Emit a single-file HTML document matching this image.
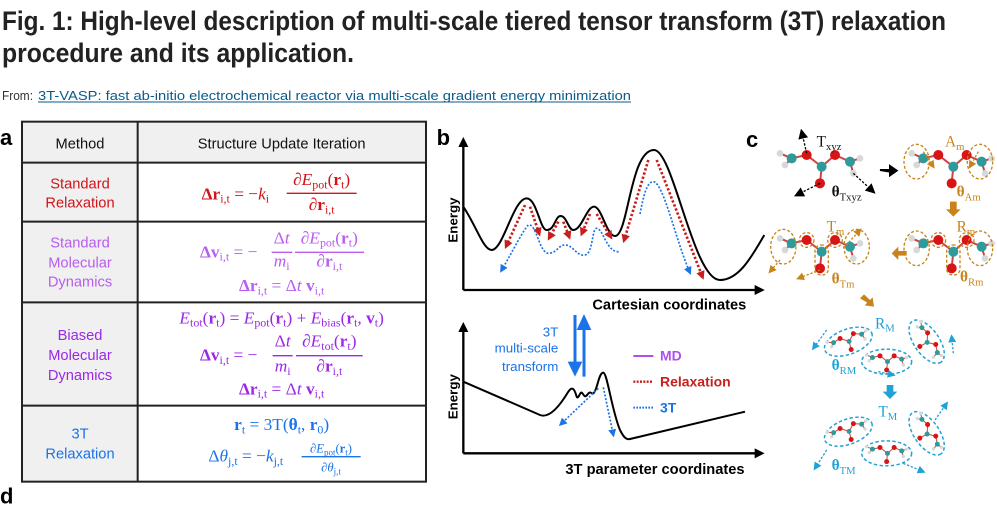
<!DOCTYPE html>
<html><head><meta charset="utf-8">
<style>
html,body{margin:0;padding:0;background:#fff;}
svg{display:block;}
.ser{font-family:"Liberation Serif","DejaVu Serif",serif;}
.san{font-family:"Liberation Sans","DejaVu Sans",sans-serif;}
</style></head>
<body>
<svg width="997" height="506" viewBox="0 0 997 506" xmlns="http://www.w3.org/2000/svg" xmlns:xlink="http://www.w3.org/1999/xlink">
<defs>
 <marker id="ap" viewBox="0 0 10 10" refX="7" refY="5" markerWidth="26" markerHeight="26" markerUnits="userSpaceOnUse" orient="auto"><path d="M0,0 L10,5 L0,10 z" fill="#b04ff0"/></marker>
 <marker id="ar" viewBox="0 0 10 10" refX="7" refY="5" markerWidth="26" markerHeight="26" markerUnits="userSpaceOnUse" orient="auto"><path d="M0,0 L10,5 L0,10 z" fill="#c81e1e"/></marker>
 <marker id="ab" viewBox="0 0 10 10" refX="7" refY="5" markerWidth="24" markerHeight="24" markerUnits="userSpaceOnUse" orient="auto"><path d="M0,0 L10,5 L0,10 z" fill="#1a73e8"/></marker>
 <marker id="ak" viewBox="0 0 10 10" refX="7" refY="5" markerWidth="30" markerHeight="30" markerUnits="userSpaceOnUse" orient="auto"><path d="M0,0 L10,5 L0,10 z" fill="#000"/></marker>
 <marker id="ao" viewBox="0 0 10 10" refX="7" refY="5" markerWidth="24" markerHeight="24" markerUnits="userSpaceOnUse" orient="auto"><path d="M0,0 L10,5 L0,10 z" fill="#c8831a"/></marker>
 <marker id="ac" viewBox="0 0 10 10" refX="7" refY="5" markerWidth="24" markerHeight="24" markerUnits="userSpaceOnUse" orient="auto"><path d="M0,0 L10,5 L0,10 z" fill="#1fa3d6"/></marker>
 <g id="mol">
  <g stroke="#c44" stroke-width="6">
   <line x1="95" y1="115" x2="140" y2="105"/><line x1="140" y1="105" x2="185" y2="140"/><line x1="185" y1="140" x2="180" y2="190"/>
   <line x1="185" y1="140" x2="225" y2="105"/><line x1="225" y1="105" x2="270" y2="125"/><line x1="60" y1="100" x2="95" y2="115"/>
   <line x1="75" y1="135" x2="95" y2="115"/><line x1="270" y1="125" x2="300" y2="115"/><line x1="270" y1="125" x2="280" y2="160"/>
  </g>
  <circle cx="60" cy="100" r="10" fill="#d8d8d8"/><circle cx="75" cy="135" r="10" fill="#d8d8d8"/>
  <circle cx="300" cy="115" r="10" fill="#d8d8d8"/><circle cx="280" cy="160" r="10" fill="#d8d8d8"/>
  <circle cx="95" cy="115" r="15" fill="#2e9a9a"/><circle cx="185" cy="140" r="15" fill="#2e9a9a"/><circle cx="270" cy="125" r="15" fill="#2e9a9a"/>
  <circle cx="140" cy="105" r="15" fill="#d81414"/><circle cx="180" cy="190" r="15" fill="#d81414"/><circle cx="225" cy="105" r="15" fill="#d81414"/>
 </g>
 <g id="molh">
  <ellipse cx="180" cy="140" rx="150" ry="75" fill="none" stroke="#1fa3d6" stroke-width="9" stroke-dasharray="20,14"/>
  <use xlink:href="#mol" href="#mol"/>
 </g>
</defs>

<!-- Header -->
<text x="2" y="30" font-family="'Liberation Sans Narrow','Liberation Sans',sans-serif" font-weight="bold" font-size="27" fill="#222" textLength="944" lengthAdjust="spacingAndGlyphs">Fig. 1: High-level description of multi-scale tiered tensor transform (3T) relaxation</text>
<text x="2" y="62" font-family="'Liberation Sans Narrow','Liberation Sans',sans-serif" font-weight="bold" font-size="27" fill="#222" textLength="352" lengthAdjust="spacingAndGlyphs">procedure and its application.</text>
<text x="2" y="100" font-family="'Liberation Sans Narrow','Liberation Sans',sans-serif" font-size="13" fill="#333" textLength="31" lengthAdjust="spacingAndGlyphs">From:</text>
<a><text x="38" y="100" font-family="'Liberation Sans Narrow','Liberation Sans',sans-serif" font-size="13" fill="#0a5a8a" textLength="593" lengthAdjust="spacingAndGlyphs">3T-VASP: fast ab-initio electrochemical reactor via multi-scale gradient energy minimization</text></a>
<line x1="38" y1="102" x2="631" y2="102" stroke="#0a5a8a" stroke-width="1"/>

<!-- Panel a -->
<g transform="translate(0,110) scale(0.33333)">
 <text x="0" y="105" class="san" font-weight="bold" font-size="66" fill="#000">a</text>
 <rect x="66" y="35" width="1212" height="1080" fill="#fff"/>
 <rect x="66" y="35" width="1212" height="123" fill="#f0f0f0"/>
 <rect x="66" y="35" width="347" height="1080" fill="#f0f0f0"/>
 <rect x="66" y="35" width="1212" height="1080" fill="none" stroke="#222" stroke-width="6"/>
 <line x1="413" y1="35" x2="413" y2="1115" stroke="#222" stroke-width="6"/>
 <line x1="66" y1="158" x2="1278" y2="158" stroke="#222" stroke-width="6"/>
 <line x1="66" y1="335" x2="1278" y2="335" stroke="#222" stroke-width="6"/>
 <line x1="66" y1="577" x2="1278" y2="577" stroke="#222" stroke-width="6"/>
 <line x1="66" y1="887" x2="1278" y2="887" stroke="#222" stroke-width="6"/>
 <g class="san" font-size="44" text-anchor="middle">
  <text x="240" y="115" fill="#111">Method</text>
  <text x="845" y="115" fill="#111">Structure Update Iteration</text>
  <g fill="#d0141a"><text x="240" y="235">Standard</text><text x="240" y="293">Relaxation</text></g>
  <g fill="#b95cf0"><text x="240" y="412">Standard</text><text x="240" y="472">Molecular</text><text x="240" y="530">Dynamics</text></g>
  <g fill="#9a28e6"><text x="240" y="690">Biased</text><text x="240" y="750">Molecular</text><text x="240" y="810">Dynamics</text></g>
  <g fill="#1a73e8"><text x="240" y="985">3T</text><text x="240" y="1045">Relaxation</text></g>
 </g>
 <g class="ser" font-size="52">
  <g fill="#d0141a">
   <text x="605" y="268"><tspan font-weight="bold">Δr</tspan><tspan font-size="36" dy="10">i,t</tspan><tspan dy="-10"> = −</tspan><tspan font-style="italic">k</tspan><tspan font-size="36" dy="10">i</tspan></text>
   <text x="965" y="225" text-anchor="middle"><tspan font-style="italic">∂E</tspan><tspan font-size="36" dy="10">pot</tspan><tspan dy="-10">(</tspan><tspan font-weight="bold">r</tspan><tspan font-size="36" dy="10">t</tspan><tspan dy="-10">)</tspan></text>
   <line x1="860" y1="250" x2="1070" y2="250" stroke="#d0141a" stroke-width="4"/>
   <text x="965" y="300" text-anchor="middle"><tspan font-style="italic">∂</tspan><tspan font-weight="bold">r</tspan><tspan font-size="36" dy="10">i,t</tspan></text>
  </g>
  <g fill="#b95cf0">
   <text x="600" y="442"><tspan font-weight="bold">Δv</tspan><tspan font-size="36" dy="10">i,t</tspan><tspan dy="-10"> = −</tspan></text>
   <text x="845" y="400" text-anchor="middle">Δ<tspan font-style="italic">t</tspan></text>
   <line x1="815" y1="427" x2="877" y2="427" stroke="#b95cf0" stroke-width="4"/>
   <text x="845" y="470" text-anchor="middle"><tspan font-style="italic">m</tspan><tspan font-size="36" dy="10">i</tspan></text>
   <text x="988" y="400" text-anchor="middle"><tspan font-style="italic">∂E</tspan><tspan font-size="36" dy="10">pot</tspan><tspan dy="-10">(</tspan><tspan font-weight="bold">r</tspan><tspan font-size="36" dy="10">t</tspan><tspan dy="-10">)</tspan></text>
   <line x1="885" y1="427" x2="1092" y2="427" stroke="#b95cf0" stroke-width="4"/>
   <text x="988" y="470" text-anchor="middle"><tspan font-style="italic">∂</tspan><tspan font-weight="bold">r</tspan><tspan font-size="36" dy="10">i,t</tspan></text>
   <text x="845" y="543" text-anchor="middle"><tspan font-weight="bold">Δr</tspan><tspan font-size="36" dy="10">i,t</tspan><tspan dy="-10"> = Δ</tspan><tspan font-style="italic">t </tspan><tspan font-weight="bold">v</tspan><tspan font-size="36" dy="10">i,t</tspan></text>
  </g>
  <g fill="#9a28e6">
   <text x="845" y="640" text-anchor="middle"><tspan font-style="italic">E</tspan><tspan font-size="36" dy="10">tot</tspan><tspan dy="-10">(</tspan><tspan font-weight="bold">r</tspan><tspan font-size="36" dy="10">t</tspan><tspan dy="-10">) = </tspan><tspan font-style="italic">E</tspan><tspan font-size="36" dy="10">pot</tspan><tspan dy="-10">(</tspan><tspan font-weight="bold">r</tspan><tspan font-size="36" dy="10">t</tspan><tspan dy="-10">) + </tspan><tspan font-style="italic">E</tspan><tspan font-size="36" dy="10">bias</tspan><tspan dy="-10">(</tspan><tspan font-weight="bold">r</tspan><tspan font-size="36" dy="10">t</tspan><tspan dy="-10">, </tspan><tspan font-weight="bold">v</tspan><tspan font-size="36" dy="10">t</tspan><tspan dy="-10">)</tspan></text>
   <text x="600" y="752"><tspan font-weight="bold">Δv</tspan><tspan font-size="36" dy="10">i,t</tspan><tspan dy="-10"> = −</tspan></text>
   <text x="848" y="710" text-anchor="middle">Δ<tspan font-style="italic">t</tspan></text>
   <line x1="818" y1="737" x2="878" y2="737" stroke="#9a28e6" stroke-width="4"/>
   <text x="848" y="785" text-anchor="middle"><tspan font-style="italic">m</tspan><tspan font-size="36" dy="10">i</tspan></text>
   <text x="988" y="710" text-anchor="middle"><tspan font-style="italic">∂E</tspan><tspan font-size="36" dy="10">tot</tspan><tspan dy="-10">(</tspan><tspan font-weight="bold">r</tspan><tspan font-size="36" dy="10">t</tspan><tspan dy="-10">)</tspan></text>
   <line x1="888" y1="737" x2="1088" y2="737" stroke="#9a28e6" stroke-width="4"/>
   <text x="988" y="785" text-anchor="middle"><tspan font-style="italic">∂</tspan><tspan font-weight="bold">r</tspan><tspan font-size="36" dy="10">i,t</tspan></text>
   <text x="845" y="853" text-anchor="middle"><tspan font-weight="bold">Δr</tspan><tspan font-size="36" dy="10">i,t</tspan><tspan dy="-10"> = Δ</tspan><tspan font-style="italic">t </tspan><tspan font-weight="bold">v</tspan><tspan font-size="36" dy="10">i,t</tspan></text>
  </g>
  <g fill="#1a73e8">
   <text x="845" y="960" text-anchor="middle"><tspan font-weight="bold">r</tspan><tspan font-size="36" dy="10">t</tspan><tspan dy="-10"> = 3T(</tspan><tspan font-weight="bold">θ</tspan><tspan font-size="36" dy="10">t</tspan><tspan dy="-10">, </tspan><tspan font-weight="bold">r</tspan><tspan font-size="36" dy="10">0</tspan><tspan dy="-10">)</tspan></text>
   <text x="625" y="1055">Δ<tspan font-style="italic">θ</tspan><tspan font-size="36" dy="10">j,t</tspan><tspan dy="-10"> = −</tspan><tspan font-style="italic">k</tspan><tspan font-size="36" dy="10">j,t</tspan></text>
   <text x="993" y="1028" text-anchor="middle" font-size="38"><tspan font-style="italic">∂E</tspan><tspan font-size="27" dy="8">pot</tspan><tspan dy="-8">(</tspan><tspan font-weight="bold">r</tspan><tspan font-size="27" dy="8">t</tspan><tspan dy="-8">)</tspan></text>
   <line x1="905" y1="1040" x2="1082" y2="1040" stroke="#1a73e8" stroke-width="4"/>
   <text x="993" y="1085" text-anchor="middle" font-size="38"><tspan font-style="italic">∂θ</tspan><tspan font-size="27" dy="8">j,t</tspan></text>
  </g>
 </g>
 <text x="0" y="1180" class="san" font-weight="bold" font-size="66" fill="#000">d</text>
</g>

<!-- Panel b -->
<g transform="translate(430,110) scale(0.33333)">
 <text x="20" y="105" class="san" font-weight="bold" font-size="66">b</text>
 <path d="M100,540 L100,90" stroke="#000" stroke-width="7" fill="none" marker-end="url(#ak)"/>
 <path d="M100,540 L995,540" stroke="#000" stroke-width="7" fill="none" marker-end="url(#ak)"/>
 <text transform="translate(82,330) rotate(-90)" text-anchor="middle" class="san" font-weight="bold" font-size="40">Energy</text>
 <text x="718" y="598" text-anchor="middle" class="san" font-weight="bold" font-size="44">Cartesian coordinates</text>
 <path d="M100,290 C140,350 160,420 185,420 C220,420 250,265 290,265 C320,265 330,360 350,360 C375,360 375,318 392,318 C410,318 415,360 430,360 C455,360 470,290 492,290 C515,290 530,378 555,378 C595,378 600,120 672,120 C730,120 790,510 870,510 C930,510 970,430 1003,375" stroke="#000" stroke-width="6" fill="none"/>
 <g id="waves"></g>
 <g stroke="#c81e1e" stroke-width="8" stroke-dasharray="7,6" fill="none">
  <path d="M285,285 L228,410" marker-end="url(#ar)"/>
  <path d="M300,290 L328,372" marker-end="url(#ar)"/>
  <path d="M385,335 L357,385" marker-end="url(#ar)"/>
  <path d="M400,335 L418,382" marker-end="url(#ar)"/>
  <path d="M480,312 L455,372" marker-end="url(#ar)"/>
  <path d="M500,312 L543,382" marker-end="url(#ar)"/>
  <path d="M655,150 L582,392" marker-end="url(#ar)"/>
  <path d="M680,150 L818,502" marker-end="url(#ar)"/>
 </g>
 <g stroke="#1a73e8" stroke-width="5" stroke-dasharray="6,5" fill="none">
  <path d="M300,345 C320,350 330,430 355,430 C380,430 385,405 405,405 C430,405 440,440 465,435 C490,430 485,355 500,355 C520,355 530,430 568,425"/>
  <path d="M295,345 C280,360 250,420 214,482" marker-end="url(#ab)"/>
  <path d="M630,312 C640,260 650,215 670,215 C700,215 740,400 780,488" marker-end="url(#ab)"/>
 </g>
 <path d="M100,1030 L100,645" stroke="#000" stroke-width="7" fill="none" marker-end="url(#ak)"/>
 <path d="M100,1030 L995,1030" stroke="#000" stroke-width="7" fill="none" marker-end="url(#ak)"/>
 <text transform="translate(82,860) rotate(-90)" text-anchor="middle" class="san" font-weight="bold" font-size="40">Energy</text>
 <text x="675" y="1092" text-anchor="middle" class="san" font-weight="bold" font-size="44">3T parameter coordinates</text>
 <path d="M100,815 L330,915 C355,925 385,895 415,845 C425,830 432,832 440,860 C445,870 450,845 455,848 C460,850 462,862 468,858 C474,854 476,845 482,848 C488,852 492,855 500,830 C505,815 510,788 520,788 C532,790 545,900 570,960 C580,980 588,990 600,987 L945,905" stroke="#000" stroke-width="6" fill="none"/>
 <g stroke="#1a73e8" stroke-width="5" stroke-dasharray="6,5" fill="none">
  <path d="M505,835 L392,943" marker-end="url(#ab)"/>
  <path d="M520,832 L550,975" marker-end="url(#ab)"/>
 </g>
 <g>
  <line x1="435" y1="615" x2="435" y2="760" stroke="#1a73e8" stroke-width="9"/>
  <path d="M413,755 L457,755 L435,800 z" fill="#1a73e8"/>
  <line x1="462" y1="800" x2="462" y2="655" stroke="#1a73e8" stroke-width="9"/>
  <path d="M440,660 L484,660 L462,612 z" fill="#1a73e8"/>
 </g>
 <g class="san" font-size="40" fill="#1a73e8" text-anchor="end">
  <text x="385" y="680">3T</text><text x="385" y="727">multi-scale</text><text x="385" y="783">transform</text>
 </g>
 <g>
  <line x1="610" y1="738" x2="670" y2="738" stroke="#b04ff0" stroke-width="6"/>
  <text x="690" y="752" class="san" font-weight="bold" font-size="42" fill="#b04ff0">MD</text>
  <line x1="610" y1="815" x2="670" y2="815" stroke="#c81e1e" stroke-width="7" stroke-dasharray="6,4"/>
  <text x="690" y="830" class="san" font-weight="bold" font-size="42" fill="#c81e1e">Relaxation</text>
  <line x1="610" y1="893" x2="670" y2="893" stroke="#1a73e8" stroke-width="6" stroke-dasharray="5,4"/>
  <text x="690" y="908" class="san" font-weight="bold" font-size="42" fill="#1a73e8">3T</text>
 </g>
</g>

<!-- Panel c -->
<text x="746" y="147" class="san" font-weight="bold" font-size="22">c</text>
<g transform="translate(760,120) scale(0.33333)">
 <g>
  <use xlink:href="#mol" href="#mol"/>
  <use xlink:href="#mol" href="#mol" transform="translate(395,0)"/>
  <use xlink:href="#mol" href="#mol" transform="translate(395,255)"/>
  <use xlink:href="#mol" href="#mol" transform="translate(0,255)"/>
  <use xlink:href="#molh" href="#molh" transform="translate(265,665) rotate(-20) scale(0.5) translate(-180,-140)"/>
  <use xlink:href="#molh" href="#molh" transform="translate(380,725) scale(0.5) translate(-180,-140)"/>
  <use xlink:href="#molh" href="#molh" transform="translate(500,665) rotate(55) scale(0.5) translate(-180,-140)"/>
  <use xlink:href="#molh" href="#molh" transform="translate(265,935) rotate(-20) scale(0.5) translate(-180,-140)"/>
  <use xlink:href="#molh" href="#molh" transform="translate(380,1000) scale(0.5) translate(-180,-140)"/>
  <use xlink:href="#molh" href="#molh" transform="translate(500,940) rotate(55) scale(0.5) translate(-180,-140)"/>
 </g>
 <g fill="none" stroke="#c8831a" stroke-width="4" stroke-dasharray="9,6">
  <ellipse cx="470" cy="125" rx="38" ry="52"/><ellipse cx="660" cy="125" rx="38" ry="52"/>
  <ellipse cx="470" cy="385" rx="38" ry="52"/><ellipse cx="660" cy="385" rx="38" ry="52"/>
  <ellipse cx="70" cy="380" rx="38" ry="52"/><ellipse cx="290" cy="380" rx="38" ry="52"/>
  <circle cx="140" cy="360" r="22"/><circle cx="225" cy="360" r="22"/><circle cx="535" cy="360" r="22"/><circle cx="620" cy="360" r="22"/>
  <rect x="165" y="375" width="40" height="90" rx="18"/><rect x="560" y="375" width="40" height="90" rx="18"/>
 </g>
 <g fill="none" stroke-width="4" stroke-dasharray="7,5">
  <path d="M140,100 L125,35" stroke="#000" marker-end="url(#ak)"/>
  <path d="M180,190 L110,225" stroke="#000" marker-end="url(#ak)"/>
  <path d="M280,160 L340,215" stroke="#000" marker-end="url(#ak)"/>
  <path d="M250,385 L300,330" stroke="#c8831a" marker-end="url(#ao)"/>
  <path d="M180,450 L115,475" stroke="#c8831a" marker-end="url(#ao)"/>
  <path d="M60,420 L30,455" stroke="#c8831a" marker-end="url(#ao)"/>
  <path d="M490,95 L520,140" stroke="#c8831a" marker-end="url(#ao)"/>
  <path d="M655,95 L630,140" stroke="#c8831a" marker-end="url(#ao)"/>
  <path d="M200,630 L160,685" stroke="#1fa3d6" marker-end="url(#ac)"/>
  <path d="M355,755 L400,765" stroke="#1fa3d6" marker-end="url(#ac)"/>
  <path d="M580,700 L575,650" stroke="#1fa3d6" marker-end="url(#ac)"/>
  <path d="M200,990 L165,1045" stroke="#1fa3d6" marker-end="url(#ac)"/>
  <path d="M430,1030 L490,1055" stroke="#1fa3d6" marker-end="url(#ac)"/>
  <path d="M525,900 L560,850" stroke="#1fa3d6" marker-end="url(#ac)"/>
 </g>
 <g class="ser" font-size="46">
  <text x="170" y="80" fill="#111">T<tspan font-size="32" dy="10">xyz</tspan></text>
  <text x="215" y="230" fill="#111" font-weight="bold">θ<tspan font-size="32" dy="12" font-weight="normal">Txyz</tspan></text>
  <text x="555" y="80" fill="#c8831a">A<tspan font-size="32" dy="10">m</tspan></text>
  <text x="590" y="230" fill="#c8831a" font-weight="bold">θ<tspan font-size="32" dy="12" font-weight="normal">Am</tspan></text>
  <text x="590" y="335" fill="#c8831a">R<tspan font-size="32" dy="10">m</tspan></text>
  <text x="600" y="485" fill="#c8831a" font-weight="bold">θ<tspan font-size="32" dy="12" font-weight="normal">Rm</tspan></text>
  <text x="200" y="335" fill="#c8831a">T<tspan font-size="32" dy="10">m</tspan></text>
  <text x="215" y="490" fill="#c8831a" font-weight="bold">θ<tspan font-size="32" dy="12" font-weight="normal">Tm</tspan></text>
  <text x="345" y="625" fill="#1fa3d6">R<tspan font-size="32" dy="10">M</tspan></text>
  <text x="215" y="750" fill="#1fa3d6" font-weight="bold">θ<tspan font-size="32" dy="12" font-weight="normal">RM</tspan></text>
  <text x="355" y="890" fill="#1fa3d6">T<tspan font-size="32" dy="10">M</tspan></text>
  <text x="215" y="1050" fill="#1fa3d6" font-weight="bold">θ<tspan font-size="32" dy="12" font-weight="normal">TM</tspan></text>
 </g>
 <g>
  <path d="M360,150 L390,150 L390,138 L410,152 L390,166 L390,155 z" fill="#000" stroke="#000" stroke-width="6"/>
  <path d="M570,245 L590,245 L590,268 L602,268 L580,290 L558,268 L570,268 z" fill="#c8831a"/>
  <path d="M415,393 L415,380 L395,400 L415,420 L415,407 L440,407 L440,393 z" fill="#c8831a"/>
  <path d="M300,535 L312,523 L330,540 L338,532 L342,560 L314,556 L322,548 z" fill="#c8831a"/>
  <path d="M380,795 L400,795 L400,815 L412,815 L390,837 L368,815 L380,815 z" fill="#1fa3d6"/>
 </g>
</g>

<script>
// MD trajectories (wavy arrows), zoomed panel-b coords
const waveStarts=[[170,380],[520,200],[290,238],[550,300],[715,85]];
const waveEnds=[[262,272],[262,238],[532,280],[632,88],[855,452]];
const waveCounts=[2,2.5,2.5,3,3.5];
const g=document.getElementById('waves');
for(let k=0;k<waveStarts.length;k++){
 const [x1,y1]=waveStarts[k],[x2,y2]=waveEnds[k];
 const dx=x2-x1,dy=y2-y1,L=Math.hypot(dx,dy),nx=-dy/L,ny=dx/L;
 let d='';
 for(let i=0;i<=60;i++){const t=i/60;const o=14*Math.sin(t*waveCounts[k]*2*Math.PI)*(t<0.92?1:(1-t)/0.08);
  d+=(i?'L':'M')+(x1+dx*t+nx*o).toFixed(1)+','+(y1+dy*t+ny*o).toFixed(1);}
 const p=document.createElementNS('http://www.w3.org/2000/svg','path');
 p.setAttribute('d',d);p.setAttribute('fill','none');p.setAttribute('stroke','#b04ff0');p.setAttribute('stroke-width','6');
 p.setAttribute('marker-end','url(#ap)');
 
 
 g.appendChild(p);
}
</script>
</svg>
</body></html>
